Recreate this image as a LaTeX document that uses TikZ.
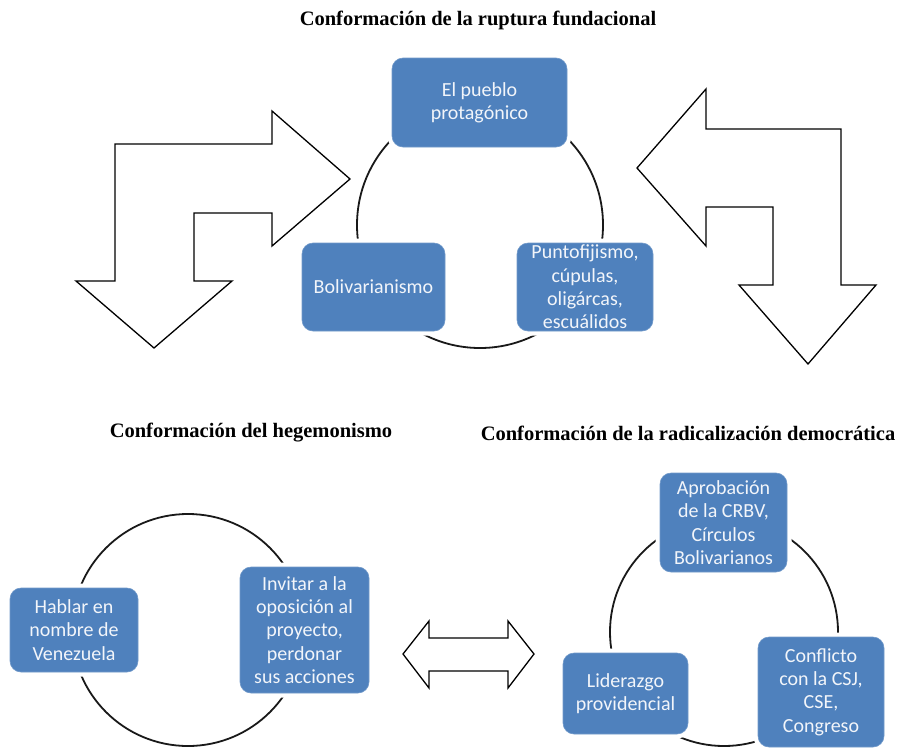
\documentclass[tikz,border=0pt]{standalone}
\usepackage{fontspec}
\setmainfont{Liberation Serif}
\newfontfamily\boxfont{Carlito}
\definecolor{boxblue}{RGB}{79,129,189}
\definecolor{boxtext}{RGB}{242,245,250}
\tikzset{
  bluebox/.style={rectangle, rounded corners=11pt, fill=boxblue, draw=boxblue!80!white, line width=0.6pt,
    text=boxtext, align=center, inner sep=2pt, font=\boxfont\fontsize{20}{23.3}\selectfont,
    preaction={draw=white, line width=9pt}},
  ring/.style={draw=black!90, line width=1.8pt},
  bigarrow/.style={draw=black, line width=1.3pt, fill=white, line join=miter},
  ttl/.style={font=\bfseries\fontsize{20.5}{24}\selectfont, inner sep=0pt}
}
\begin{document}
\begin{tikzpicture}[x=1pt,y=-1pt]
\useasboundingbox (0,0) rectangle (900,750);
\fill[white] (0,0) rectangle (900,750);

% titles
\node[ttl] (t1) at (478,20) {Conformación de la ruptura fundacional};
\node[ttl] (t2) at (251,433) {Conformación del hegemonismo};
\node[ttl] (t3) at (688,433) {Conformación de la radicalización democrática};

% bent arrows top
\draw[bigarrow] (115,281) -- (115,144) -- (272,144) -- (272,111) -- (350,179) -- (272,246) -- (272,213)
  -- (194,213) -- (194,281) -- (232,281) -- (154,348) -- (76,281) -- cycle;
\draw[bigarrow] (706,129) -- (841,129) -- (841,285) -- (876,285) -- (808,364) -- (739,285) -- (773,285)
  -- (773,207) -- (706,207) -- (706,246) -- (637,168) -- (706,89) -- cycle;

% double arrow
\draw[bigarrow] (403,654) -- (429,621) -- (429,638) -- (508,638) -- (508,621) -- (534,654)
  -- (508,688) -- (508,671) -- (429,671) -- (429,688) -- cycle;

% top cycle
\coordinate (c1) at (480,225);
\draw[ring] (c1) circle[radius=123];
\node[bluebox, minimum width=175pt, minimum height=89pt] (pueblo) at (479.5,102.5) {El pueblo\\protagónico};
\node[bluebox, minimum width=143pt, minimum height=88pt] (boliv) at (373.5,287) {Bolivarianismo};
\node[bluebox, minimum width=136pt, minimum height=88pt] (punto) at (585,287) {Puntofijismo,\\cúpulas,\\oligárcas,\\escuálidos};

% bottom-left cycle
\coordinate (c2) at (188,630);
\draw[ring] (c2) circle[radius=116];
\node[bluebox, minimum width=128pt, minimum height=84pt] (hablar) at (74,630) {Hablar en\\nombre de\\Venezuela};
\node[bluebox, minimum width=129pt, minimum height=126pt] (invitar) at (304.5,630) {Invitar a la\\oposición al\\proyecto,\\perdonar\\sus acciones};

% bottom-right cycle
\coordinate (c3) at (724,632);
\draw[ring] (c3) circle[radius=114];
\node[bluebox, minimum width=127pt, minimum height=99pt] (aprob) at (723.5,522.5) {Aprobación\\de la CRBV,\\Círculos\\Bolivarianos};
\node[bluebox, minimum width=125pt, minimum height=81pt] (lider) at (625.5,693.5) {Liderazgo\\providencial};
\node[bluebox, minimum width=126pt, minimum height=110pt] (confl) at (821,692) {Conflicto\\con la CSJ,\\CSE,\\Congreso};
\end{tikzpicture}
\end{document}
